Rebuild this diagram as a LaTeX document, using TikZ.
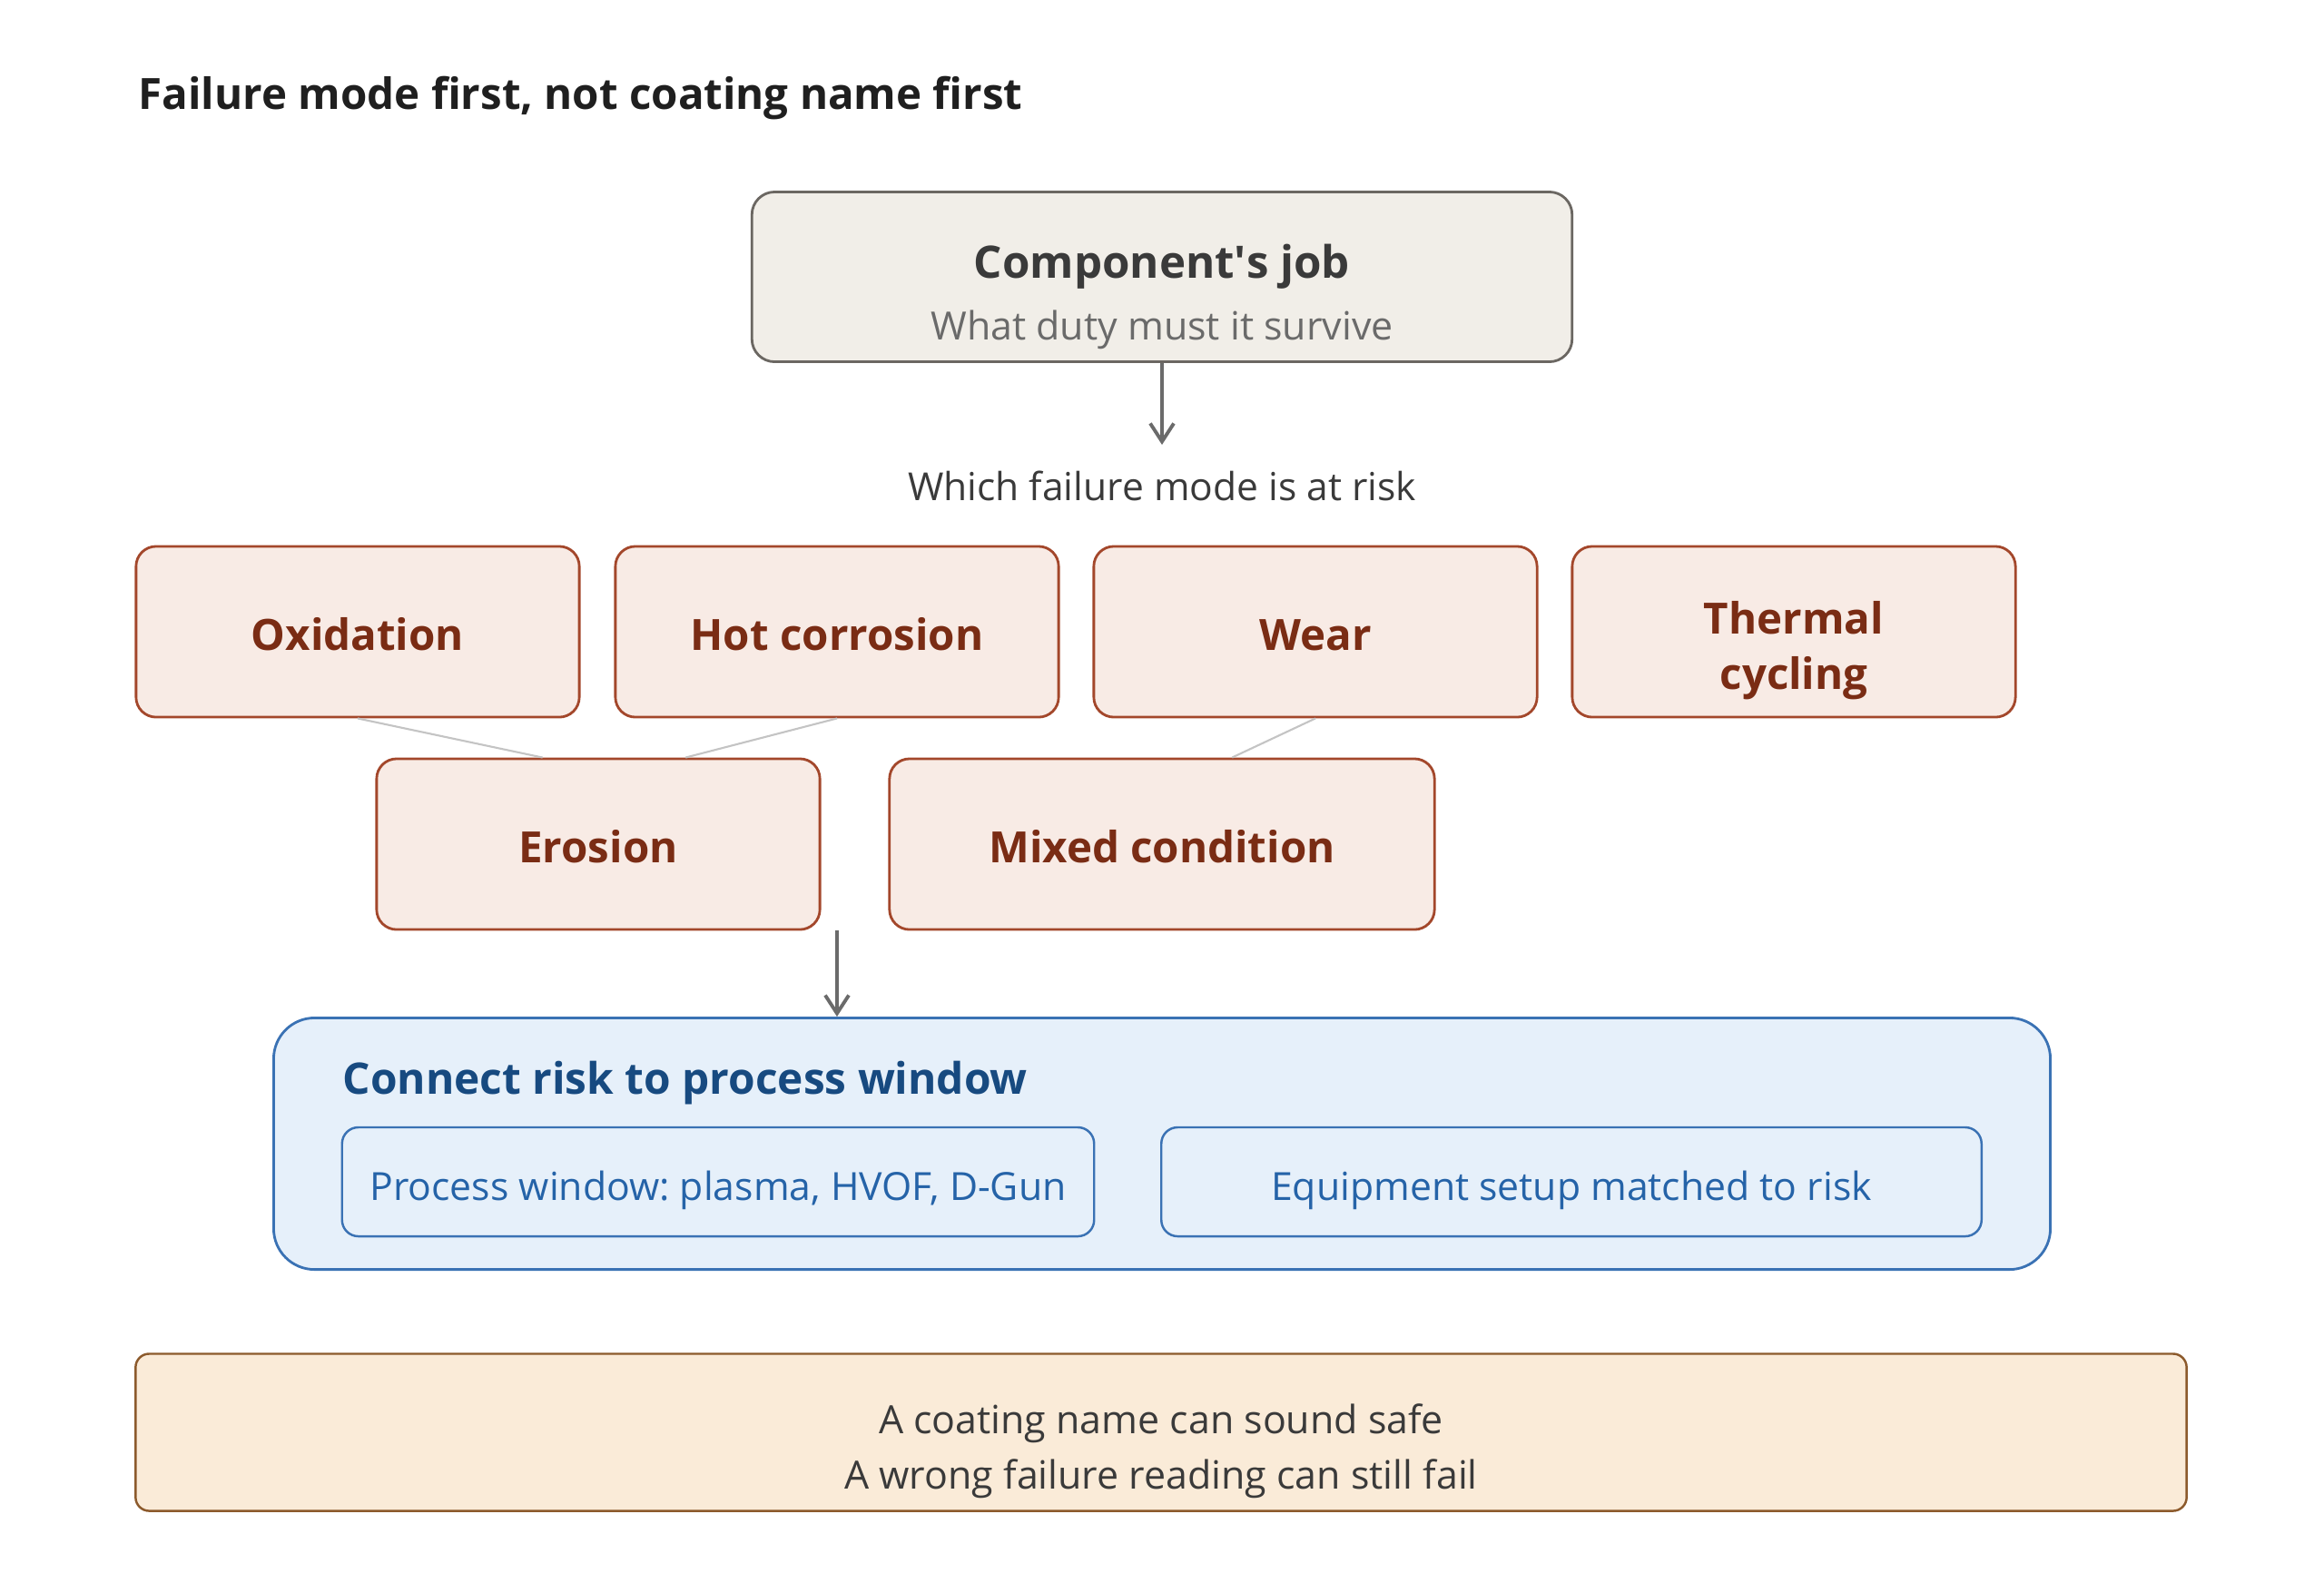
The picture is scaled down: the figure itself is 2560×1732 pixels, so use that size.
\documentclass[tikz,border=0pt]{standalone}
\usepackage{fontspec}
\setmainfont{Open Sans}
\usetikzlibrary{calc}
\usetikzlibrary{arrows.meta}

\definecolor{jobfill}{HTML}{F1EEE8}
\definecolor{jobline}{HTML}{6B6762}
\definecolor{jobtext}{HTML}{3A3A3A}
\definecolor{subtext}{HTML}{6A6A6A}
\definecolor{modefill}{HTML}{F8EBE5}
\definecolor{modeline}{HTML}{A3472B}
\definecolor{modetext}{HTML}{7A2C14}
\definecolor{winfill}{HTML}{E6F0FA}
\definecolor{winline}{HTML}{3A72B4}
\definecolor{wintitle}{HTML}{174A80}
\definecolor{wintext}{HTML}{2563A8}
\definecolor{notefill}{HTML}{FAEBD8}
\definecolor{noteline}{HTML}{8C5A2C}
\definecolor{arrowgray}{HTML}{6B6B6B}
\definecolor{linkgray}{HTML}{C4C4C4}

% text moved down inside its box, box size kept
\newcommand\droptext[2]{\raisebox{#1}[\height][\depth]{\begin{tabular}{@{}c@{}}#2\end{tabular}}}

\tikzset{
    modebox/.style = {draw = modeline, fill = modefill, line width = 0.8pt, rounded corners = 0.22cm,
        minimum width = 4.88cm, minimum height = 1.88cm, align = center, text = modetext,
        font = \fontsize{13.5}{17.2}\selectfont\bfseries},
    flowarrow/.style = {draw = arrowgray, line width = 1.1pt, -{Straight Barb[length = 0.2cm, width = 0.26cm]}},
    link/.style = {draw = linkgray, line width = 0.6pt},
    winbox/.style = {draw = winline, fill = winfill, line width = 0.7pt, rounded corners = 0.18cm,
        minimum height = 1.2cm, text = wintext, font = \fontsize{12.15}{15}\selectfont}
}

\begin{document}
\frenchspacing
\begin{tikzpicture}[x = 0.01cm, y = -0.01cm]
    \useasboundingbox (0,0) rectangle (2560,1732);

    \node[anchor = base west, inner sep = 0pt, font = \fontsize{13.5}{16}\selectfont\bfseries, text = black!88] (title)
        at (152,120) {Failure mode first, not coating name first};

    % top box
    \node[draw = jobline, fill = jobfill, line width = 0.8pt, rounded corners = 0.25cm,
        minimum width = 9.03cm, minimum height = 1.87cm, font = \fontsize{12.2}{19.2}\selectfont] (job) at (1280,305)
        {\droptext{-0.22cm}{{\fontsize{14}{17}\selectfont\bfseries\color{jobtext}Component\textquotesingle s job}\\
         {\color{subtext}What duty must it survive}}};
    \coordinate (ask) at (1280,490);
    \draw[flowarrow] (job.south) -- (ask);
    \node[font = \fontsize{12.1}{15}\selectfont, text = jobtext] (question) at (1280,535)
        {Which failure mode is at risk};

    % failure modes
    \foreach \name/\x/\txt in {oxid/394/Oxidation, hot/922/Hot corrosion, wear/1449/Wear}{
        \node[modebox] (\name) at (\x,696) {\droptext{-0.08cm}{\txt}};
    }
    \node[modebox] (therm) at (1976,696) {\droptext{-0.21cm}{Thermal\\cycling}};
    \node[modebox] (eros) at (659,930) {\droptext{-0.08cm}{Erosion}};
    \node[modebox, minimum width = 6.0cm] (mixed) at (1280,930) {\droptext{-0.08cm}{Mixed condition}};

    \draw[link] (oxid.south) -- ($(eros.north west)!0.375!(eros.north east)$);
    \draw[link] (hot.south) -- ($(eros.north west)!0.696!(eros.north east)$);
    \draw[link] (wear.south) -- ($(mixed.north west)!0.628!(mixed.north east)$);

    % process window
    \node[draw = winline, fill = winfill, line width = 0.8pt, rounded corners = 0.45cm,
        minimum width = 19.56cm, minimum height = 2.77cm] (win) at (1280,1260) {};
    \draw[flowarrow] (hot.south |- eros.south) -- (hot.south |- win.north);
    \node[anchor = west, inner sep = 0pt, font = \fontsize{13.6}{17}\selectfont\bfseries, text = wintitle] (wintitle)
        at (377,1193) {Connect risk to process window};
    \node[winbox, minimum width = 8.28cm] (proc) at (791,1302) {\droptext{-0.1cm}{Process window: plasma, HVOF, D-Gun}};
    \node[winbox, minimum width = 9.03cm] (equip) at (1731,1302) {\droptext{-0.1cm}{Equipment setup matched to risk}};

    % note
    \node[draw = noteline, fill = notefill, line width = 0.7pt, rounded corners = 0.15cm,
        minimum width = 22.58cm, minimum height = 1.73cm, text = jobtext,
        font = \fontsize{12.2}{17.2}\selectfont] (note) at (1279,1578)
        {\droptext{-0.2cm}{A coating name can sound safe\\A wrong failure reading can still fail}};
\end{tikzpicture}
\end{document}
